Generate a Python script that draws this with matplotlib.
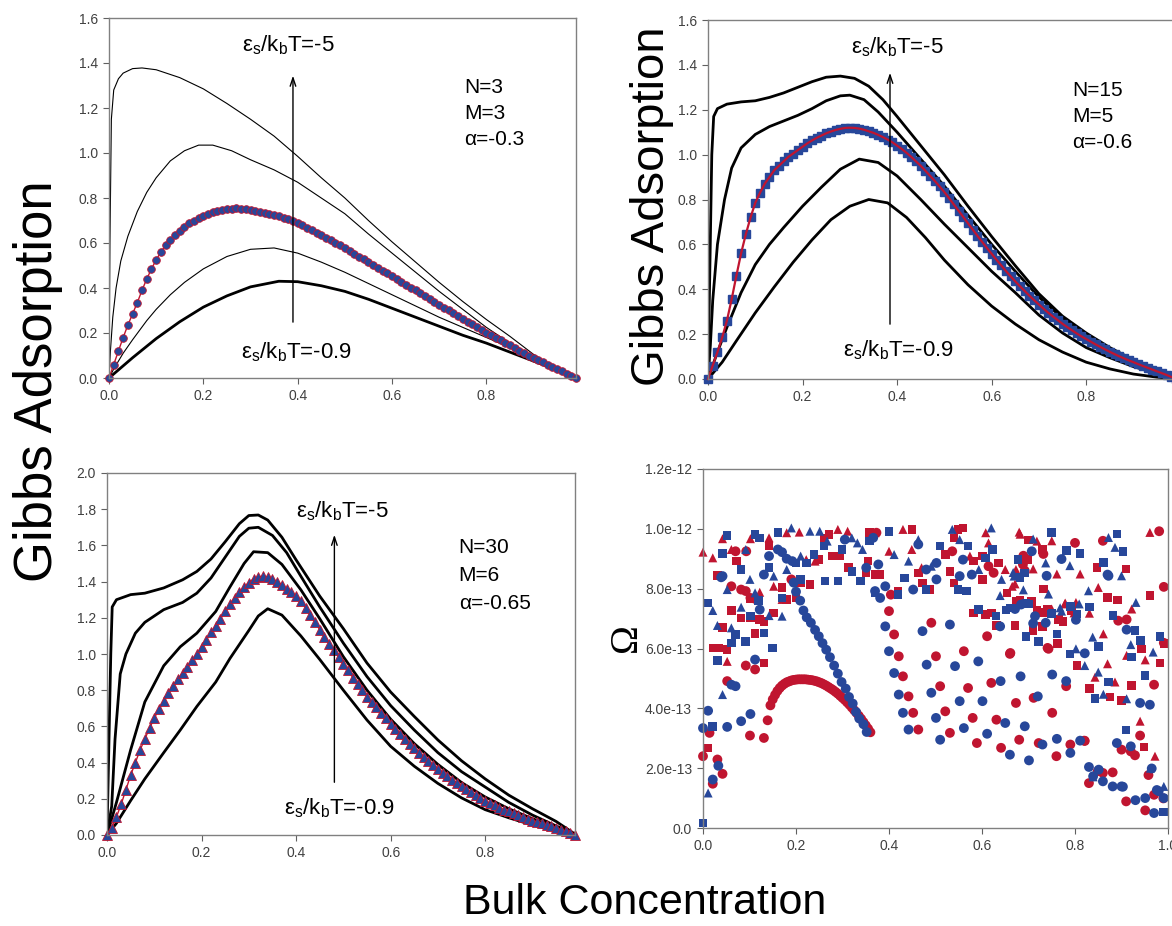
import numpy as np
import matplotlib
matplotlib.use('Agg')
import matplotlib.pyplot as plt

plt.rcParams['font.family'] = ['Liberation Sans', 'DejaVu Sans']

RED = '#c01530'
BLUE = '#27479a'

# ---------------- top left: N=3, M=3, alpha=-0.3 ----------------
tl_x1 = [0, 0.002, 0.005, 0.01, 0.02, 0.03, 0.05, 0.07, 0.1, 0.15, 0.2, 0.25, 0.3, 0.35, 0.4,
         0.45, 0.5, 0.55, 0.6, 0.65, 0.7, 0.75, 0.8, 0.85, 0.9, 0.95, 0.99]
tl_y1 = [0, 0.6, 1.15, 1.28, 1.33, 1.355, 1.375, 1.378, 1.37, 1.335, 1.285, 1.22, 1.15, 1.075, 0.985,
         0.89, 0.80, 0.70, 0.605, 0.515, 0.425, 0.34, 0.26, 0.185, 0.105, 0.04, 0]
tl_x2 = [0, 0.003, 0.008, 0.015, 0.025, 0.04, 0.06, 0.08, 0.1, 0.13, 0.16, 0.19, 0.22, 0.26, 0.3,
         0.35, 0.4, 0.45, 0.5, 0.55, 0.6, 0.65, 0.7, 0.75, 0.8, 0.85, 0.9, 0.95, 0.99]
tl_y2 = [0, 0.12, 0.27, 0.40, 0.52, 0.63, 0.74, 0.825, 0.89, 0.965, 1.01, 1.035, 1.035, 1.01, 0.97,
         0.925, 0.87, 0.80, 0.73, 0.64, 0.555, 0.47, 0.385, 0.305, 0.225, 0.155, 0.09, 0.035, 0]
tl_x4 = [0, 0.01, 0.03, 0.05, 0.08, 0.1, 0.13, 0.16, 0.2, 0.25, 0.3, 0.35, 0.4, 0.45, 0.5,
         0.55, 0.6, 0.65, 0.7, 0.75, 0.8, 0.85, 0.9, 0.95, 0.99]
tl_y4 = [0, 0.04, 0.11, 0.17, 0.255, 0.305, 0.37, 0.425, 0.485, 0.54, 0.572, 0.578, 0.555, 0.515, 0.47,
         0.42, 0.37, 0.32, 0.27, 0.225, 0.18, 0.135, 0.09, 0.045, 0]
tl_x5 = [0, 0.05, 0.1, 0.15, 0.2, 0.25, 0.3, 0.36, 0.4, 0.45, 0.5, 0.55, 0.6, 0.65, 0.7,
         0.75, 0.8, 0.85, 0.9, 0.95, 0.99]
tl_y5 = [0, 0.09, 0.175, 0.25, 0.315, 0.365, 0.405, 0.43, 0.428, 0.41, 0.385, 0.35, 0.31, 0.27, 0.23,
         0.19, 0.155, 0.115, 0.075, 0.035, 0]
tl_mark = [0.000, 0.060, 0.120, 0.180, 0.235, 0.285, 0.335, 0.390, 0.440, 0.485,
           0.525, 0.560, 0.590, 0.615, 0.635, 0.655, 0.672, 0.687, 0.700, 0.712,
           0.722, 0.731, 0.738, 0.744, 0.748, 0.751, 0.753, 0.754, 0.753, 0.751,
           0.748, 0.744, 0.740, 0.735, 0.730, 0.724, 0.718, 0.712, 0.705, 0.698,
           0.690, 0.679, 0.668, 0.657, 0.646, 0.635, 0.623, 0.612, 0.601, 0.589,
           0.578, 0.565, 0.553, 0.540, 0.528, 0.515, 0.502, 0.490, 0.477, 0.465,
           0.452, 0.440, 0.427, 0.414, 0.402, 0.389, 0.376, 0.364, 0.351, 0.339,
           0.326, 0.313, 0.301, 0.288, 0.276, 0.263, 0.250, 0.238, 0.225, 0.213,
           0.200, 0.189, 0.178, 0.167, 0.156, 0.145, 0.133, 0.122, 0.111, 0.100,
           0.089, 0.079, 0.069, 0.059, 0.049, 0.039, 0.030, 0.020, 0.010, 0.000]

# ---------------- top right: N=15, M=5, alpha=-0.6 ----------------
tr_x1 = [0, 0.004, 0.008, 0.012, 0.02, 0.04, 0.07, 0.1, 0.13, 0.16, 0.19, 0.22, 0.25, 0.28, 0.31,
         0.34, 0.37, 0.4, 0.45, 0.5, 0.55, 0.6, 0.65, 0.7, 0.75, 0.8, 0.85, 0.9, 0.95, 0.99]
tr_y1 = [0, 0.5, 1.0, 1.17, 1.205, 1.225, 1.235, 1.24, 1.255, 1.275, 1.30, 1.325, 1.345, 1.35, 1.34,
         1.305, 1.245, 1.17, 1.04, 0.91, 0.77, 0.635, 0.505, 0.38, 0.28, 0.205, 0.14, 0.085, 0.04, 0.005]
tr_x2 = [0, 0.005, 0.01, 0.02, 0.035, 0.05, 0.07, 0.1, 0.13, 0.16, 0.19, 0.22, 0.25, 0.28, 0.3,
         0.33, 0.36, 0.4, 0.45, 0.5, 0.55, 0.6, 0.65, 0.7, 0.75, 0.8, 0.85, 0.9, 0.95, 0.99]
tr_y2 = [0, 0.15, 0.35, 0.6, 0.8, 0.94, 1.03, 1.09, 1.125, 1.15, 1.175, 1.205, 1.24, 1.262, 1.265,
         1.245, 1.19, 1.1, 0.98, 0.86, 0.73, 0.6, 0.48, 0.365, 0.27, 0.19, 0.13, 0.08, 0.035, 0.003]
tr_x4 = [0, 0.02, 0.04, 0.07, 0.1, 0.13, 0.16, 0.2, 0.24, 0.28, 0.32, 0.36, 0.4, 0.45, 0.5,
         0.55, 0.6, 0.65, 0.7, 0.75, 0.8, 0.85, 0.9, 0.95, 0.99]
tr_y4 = [0, 0.12, 0.23, 0.385, 0.51, 0.6, 0.675, 0.77, 0.855, 0.935, 0.98, 0.965, 0.905, 0.8, 0.69,
         0.585, 0.48, 0.385, 0.285, 0.205, 0.14, 0.095, 0.055, 0.025, 0.003]
tr_x5 = [0, 0.03, 0.06, 0.1, 0.14, 0.18, 0.22, 0.26, 0.3, 0.34, 0.38, 0.42, 0.46, 0.5, 0.55,
         0.6, 0.65, 0.7, 0.75, 0.8, 0.85, 0.9, 0.95, 0.99]
tr_y5 = [0, 0.075, 0.17, 0.295, 0.41, 0.52, 0.62, 0.71, 0.77, 0.80, 0.785, 0.72, 0.63, 0.53, 0.42,
         0.325, 0.245, 0.175, 0.12, 0.075, 0.045, 0.022, 0.008, 0]
tr_mark = [0.000, 0.060, 0.120, 0.185, 0.260, 0.355, 0.460, 0.560, 0.645, 0.720,
           0.785, 0.830, 0.870, 0.900, 0.930, 0.950, 0.970, 0.990, 1.005, 1.020,
           1.035, 1.050, 1.063, 1.075, 1.085, 1.095, 1.103, 1.110, 1.115, 1.119,
           1.120, 1.119, 1.116, 1.111, 1.104, 1.097, 1.088, 1.078, 1.067, 1.055,
           1.040, 1.025, 1.008, 0.990, 0.970, 0.950, 0.928, 0.905, 0.882, 0.858,
           0.833, 0.806, 0.778, 0.750, 0.722, 0.694, 0.666, 0.638, 0.611, 0.584,
           0.558, 0.532, 0.507, 0.482, 0.458, 0.435, 0.413, 0.392, 0.371, 0.351,
           0.332, 0.313, 0.295, 0.278, 0.262, 0.246, 0.231, 0.217, 0.203, 0.190,
           0.178, 0.166, 0.154, 0.143, 0.132, 0.121, 0.111, 0.101, 0.092, 0.083,
           0.075, 0.066, 0.058, 0.050, 0.042, 0.034, 0.026, 0.018, 0.009, 0.000]

# ---------------- bottom left: N=30, M=6, alpha=-0.65 ----------------
bl_x1 = [0, 0.004, 0.008, 0.011, 0.02, 0.05, 0.08, 0.12, 0.16, 0.19, 0.22, 0.25, 0.28, 0.3, 0.32,
         0.34, 0.37, 0.4, 0.45, 0.5, 0.55, 0.6, 0.65, 0.7, 0.75, 0.8, 0.85, 0.9, 0.95, 0.99]
bl_y1 = [0, 0.5, 1.0, 1.26, 1.3, 1.328, 1.336, 1.365, 1.41, 1.456, 1.525, 1.62, 1.72, 1.765, 1.768,
         1.74, 1.645, 1.52, 1.32, 1.14, 0.95, 0.79, 0.655, 0.525, 0.41, 0.31, 0.22, 0.145, 0.075, 0.005]
bl_x2 = [0, 0.01, 0.017, 0.028, 0.04, 0.06, 0.08, 0.12, 0.16, 0.19, 0.22, 0.25, 0.28, 0.3, 0.32,
         0.35, 0.38, 0.41, 0.45, 0.5, 0.55, 0.6, 0.65, 0.7, 0.75, 0.8, 0.85, 0.9, 0.95, 0.99]
bl_y2 = [0, 0.16, 0.53, 0.89, 1.0, 1.115, 1.175, 1.245, 1.285, 1.336, 1.42, 1.535, 1.65, 1.695, 1.70,
         1.655, 1.56, 1.43, 1.26, 1.06, 0.875, 0.715, 0.58, 0.455, 0.35, 0.265, 0.18, 0.11, 0.05, 0.005]
bl_x3 = [0, 0.02, 0.05, 0.08, 0.12, 0.155, 0.19, 0.23, 0.26, 0.29, 0.31, 0.34, 0.37, 0.41, 0.45,
         0.5, 0.55, 0.6, 0.65, 0.7, 0.75, 0.8, 0.85, 0.9, 0.95, 0.99]
bl_y3 = [0, 0.18, 0.47, 0.735, 0.935, 1.04, 1.115, 1.235, 1.37, 1.5, 1.565, 1.56, 1.495, 1.355, 1.195,
         0.985, 0.8, 0.64, 0.505, 0.39, 0.29, 0.21, 0.145, 0.09, 0.04, 0.003]
bl_x5 = [0, 0.02, 0.05, 0.08, 0.12, 0.155, 0.19, 0.23, 0.26, 0.3, 0.32, 0.34, 0.37, 0.41, 0.45,
         0.5, 0.55, 0.6, 0.65, 0.7, 0.75, 0.8, 0.85, 0.9, 0.95, 0.99]
bl_y5 = [0, 0.065, 0.19, 0.31, 0.455, 0.58, 0.71, 0.845, 0.975, 1.13, 1.21, 1.25, 1.215, 1.1, 0.97,
         0.8, 0.635, 0.49, 0.38, 0.285, 0.205, 0.14, 0.095, 0.055, 0.022, 0]
bl_mark = [0.000, 0.040, 0.100, 0.170, 0.250, 0.330, 0.400, 0.470, 0.530, 0.590,
           0.645, 0.695, 0.740, 0.785, 0.825, 0.860, 0.895, 0.930, 0.965, 1.000,
           1.040, 1.080, 1.120, 1.155, 1.195, 1.235, 1.275, 1.310, 1.340, 1.370,
           1.395, 1.415, 1.425, 1.430, 1.425, 1.415, 1.400, 1.380, 1.360, 1.340,
           1.320, 1.295, 1.255, 1.215, 1.175, 1.135, 1.095, 1.055, 1.020, 0.985,
           0.945, 0.910, 0.870, 0.835, 0.800, 0.765, 0.735, 0.705, 0.675, 0.645,
           0.615, 0.585, 0.560, 0.530, 0.505, 0.480, 0.455, 0.430, 0.410, 0.385,
           0.365, 0.345, 0.325, 0.305, 0.290, 0.270, 0.255, 0.235, 0.220, 0.205,
           0.190, 0.175, 0.165, 0.150, 0.140, 0.130, 0.120, 0.110, 0.100, 0.090,
           0.080, 0.072, 0.064, 0.056, 0.048, 0.040, 0.030, 0.020, 0.010, 0.000]

# bulk concentration grid of the marker series
mark_x = np.round(np.arange(100) * 0.01, 2)

# ---------------- bottom right: Omega scatter (y in units of 1e-13) ----------------
rc_x = [0, .014, .021, .031, .042, .052, .061, .07, .082, .092, .092, .101, .093, .102, .112, .112, .131, .19,
        .139, .145, .15, .155, .16, .165, .17, .175, .18, .185, .19, .195, .2, .205, .21, .215, .22, .225,
        .23, .235, .24, .245, .25, .255, .26, .265, .27, .275, .28, .285, .29, .295, .3, .305, .31, .315,
        .32, .325, .33, .335, .34, .345, .35, .355, .36,
        .373, .404, .4, .411, .421, .43, .442, .452, .463, .491, .501, .51, .521, .531, .561, .57, .58, .589,
        .611, .62, .631, .641, .661, .673, .68, .711, .722, .741, .751, .76, .781, .79, .82, .83, .849, .86,
        .881, .9, .91, .92, .94, .951, .97, .97, .991, .991, .981, .911, .893, .86, .8, .689, .732, .692,
        .688, .614, .625, .536, .66, .743, .929, .821, .958, .99]
rc_y = [2.4, 3.18, 1.48, 2.29, 1.81, 4.91, 8.08, 9.25, 7.97, 7.92, 5.43, 3.09, 9.25, 7.69, 7.66, 5.3, 3.01, 8.31,
        3.6, 4.1, 4.3, 4.45, 4.58, 4.68, 4.76, 4.82, 4.87, 4.9, 4.93, 4.95, 4.96, 4.97, 4.97, 4.97, 4.97, 4.96,
        4.95, 4.94, 4.92, 4.9, 4.87, 4.84, 4.8, 4.76, 4.71, 4.66, 4.61, 4.55, 4.49, 4.42, 4.35, 4.28, 4.2, 4.12,
        4.03, 3.94, 3.85, 3.75, 3.65, 3.54, 3.43, 3.32, 3.2,
        9.87, 7.8, 7.25, 6.47, 5.74, 5.07, 4.4, 3.85, 3.29, 6.86, 5.74, 4.74, 3.9, 3.18, 5.91, 4.68, 3.68, 2.84,
        6.41, 4.85, 3.62, 2.68, 5.85, 4.18, 2.95, 4.35, 2.84, 6.02, 3.85, 2.4, 4.74, 2.79, 2.92, 1.5, 1.9, 1.84,
        1.86, 2.62, 0.89, 2.56, 3.09, 0.59, 1.11, 4.79, 6.19, 8.06, 9.92, 6.97, 6.93, 9.6, 9.53, 9.1, 9.16, 8.6,
        8.81, 8.75, 8.53, 9.25, 5.82, 5.99, 2.43, 2.91, 1.77, 0.99]

rs_x = [.011, .023, .033, .042, .052, .031, .061, .072, .082, .102, .112, .131, .122, .131, .142, .152, .17,
        .18, .2, .21, .23, .248, .26, .271, .279, .294, .313, .351, .355, .358, .37, .381, .419, .449, .464,
        .548, .487, .472, .521, .531, .54, .54, .559, .582, .601, .635, .654, .601, .582, .608, .62, .631,
        .673, .707, .73, .741, .764, .699, .73, .7, .91, .961, .87, .891, .992, .943, .983, .922, .9, .831,
        .875, .804, .762, .71, .774, .793, .732, .718, .682, .671, .732, .847, .101, .948]
rs_y = [2.68, 6.02, 6.02, 6.71, 5.96, 8.44, 7.27, 8.92, 7.02, 7.02, 6.5, 5.52, 6.97, 6.91, 9.42, 7.19, 8.03,
        7.64, 7.69, 8.19, 8.14, 8.97, 9.7, 9.81, 9.09, 9.09, 8.7, 8.53, 8.92, 9.87, 8.47, 8.47, 7.92, 9.98, 8.53,
        9.98, 7.97, 8.19, 9.14, 8.58, 8.19, 9.7, 10.03, 8.92, 8.31, 8.86, 7.86, 9.09, 7.19, 7.13, 7.19, 6.77,
        7.58, 7.58, 6.74, 7.3, 6.97, 8.97, 9.31, 9.62, 8.66, 7.77, 7.71, 7.62, 6.16, 5.99, 5.51, 4.77, 4.27, 4.66,
        4.38, 5.43, 6.16, 6.6, 6.91, 7.27, 7.21, 7.29, 7.6, 6.77, 7.99, 8.71, 7.66, 2.71]

rt_x = [0, .021, .042, .052, .061, .102, .122, .142, .152, .17, .18, .207, .222, .241, .29, .311, .37, .4,
        .43, .449, .47, .574, .614, .65, .665, .673, .718, .682, .75, .68, .608, .961, .811, .922, .911, .951,
        .886, .87, .843, .861, .802, .831, .778, .75, .671, .761, .71, .85, .779, .798, .972, .94]
rt_y = [9.22, 9.03, 9.67, 5.57, 9.31, 9.67, 7.88, 9.7, 8.08, 7.64, 9.87, 9.89, 8.97, 8.92, 9.98, 9.92, 9.87,
        9.25, 9.98, 9.31, 8.7, 9.09, 9.53, 8.64, 8.08, 8.64, 9.59, 9.82, 9.6, 9.89, 9.87, 9.88, 8.49, 7.32, 5.77,
        5.62, 4.88, 5.49, 5.04, 6.49, 7.54, 7.18, 7.49, 7.32, 8.16, 8.49, 8.66, 8.04, 7.52, 7.19, 2.4, 3.57]

bc_x = [0, .011, .021, .033, .052, .061, .07, .042, .082, .102, .122, .112, .131, .142, .161, .17, .18, .192,
        .039, .195, .2, .209, .216, .223, .232, .241, .249, .257, .265, .273, .282, .29, .298, .307, .314,
        .322, .329, .336, .345, .352,
        .305, .351, .366, .37, .377, .381, .392, .392, .4, .411, .421, .43, .442, .452, .463, .48, .472, .481,
        .491, .501, .51, .531, .542, .552, .561, .592, .601, .611, .64, .65, .66, .683, .692, .701, .72, .73,
        .751, .761, .781, .79, .811, .83, .839, .851, .86, .881, .89, .9, .93, .951, .97, .98, .991, .911,
        .94, .961, .92, .87, .502, .552, .578, .559, .502, .639, .684, .714, .737, .707, .771, .872, .739,
        .671, .71, .802, .821, .965, .976, .903]
bc_y = [3.34, 3.92, 1.62, 2.08, 3.38, 4.79, 4.74, 8.42, 3.57, 3.81, 7.3, 5.63, 8.47, 9.09, 9.31, 9.22, 9.0, 8.92,
        8.38, 8.2, 7.9, 7.6, 7.27, 7.04, 6.86, 6.62, 6.41, 6.18, 5.96, 5.71, 5.43, 5.16, 4.88, 4.66, 4.38,
        4.16, 3.88, 3.66, 3.47, 3.21,
        9.64, 8.7, 9.7, 7.92, 8.81, 7.69, 8.08, 6.74, 5.91, 5.18, 4.46, 3.85, 3.29, 7.97, 9.48, 8.64, 6.58, 5.46,
        4.52, 3.68, 2.95, 6.8, 5.41, 4.24, 3.34, 5.57, 4.24, 3.15, 4.91, 3.51, 2.45, 5.07, 3.4, 2.26, 4.4, 2.79,
        5.13, 2.98, 4.91, 2.51, 2.92, 2.04, 1.73, 1.95, 1.56, 1.39, 2.84, 1.39, 0.93, 1.0, 0.5, 1.23, 1.0, 6.63,
        4.18, 4.12, 2.73, 8.47, 8.86, 8.42, 8.47, 8.97, 8.31, 6.74, 7.47, 7.08, 6.86, 9.25, 8.99, 8.43, 8.43,
        7.32, 6.84, 6.96, 5.84, 1.99, 1.27, 1.38]

bs_x = [0, .011, .021, .031, .042, .052, .061, .07, .082, .092, .102, .112, .122, .131, .15, .142, .161, .17,
        .2, .21, .222, .239, .26, .262, .29, .299, .32, .339, .358, .37, .4, .419, .433, .48, .51, .548, .57,
        .608, .623, .567, .593, .63, .661, .695, .751, .79, .677, .692, .75, .89, .903, .782, .811, .861, .882,
        .929, .983, .941, .922, .951, .843, .872, .85, .789, .761, .695, .721, .804, .831, .75, .7, .652, .682,
        .91, .99, .119]
bs_y = [0.17, 7.52, 3.4, 5.6, 9.18, 9.78, 6.19, 6.47, 8.64, 6.24, 7.08, 9.81, 9.7, 6.52, 6.02, 8.7, 9.87, 7.69,
        8.86, 8.31, 8.86, 9.14, 9.42, 8.25, 8.25, 9.31, 8.58, 8.25, 9.59, 7.86, 9.92, 7.8, 8.36, 7.97, 9.42, 7.97,
        9.42, 9.03, 9.31, 7.92, 7.3, 7.08, 7.36, 7.52, 7.19, 7.41, 8.97, 8.53, 9.88, 9.82, 9.24, 9.27, 9.18, 8.88,
        7.1, 6.6, 6.4, 6.27, 5.71, 5.1, 4.32, 4.88, 6.07, 5.82, 6.49, 6.4, 6.24, 7.16, 7.38, 7.16, 7.49, 7.29,
        8.38, 3.27, 0.54, 7.6]

bt_x = [.011, .021, .031, .042, .052, .061, .082, .092, .101, .112, .142, .152, .17, .18, .19, .21, .23, .251,
        .267, .32, .332, .343, .411, .442, .463, .491, .552, .593, .62, .642, .669, .737, .71, .872, .886, .789,
        .9, .931, .92, .968, .911, .861, .85, .802, .821, .838, .809, .768, .639, .689, .743, .829, .667, .771,
        .839, .962, .991, .536]
bt_y = [1.17, 7.27, 6.77, 4.46, 7.97, 6.69, 7.38, 9.31, 8.31, 7.86, 7.1, 8.42, 7.08, 8.64, 10.03, 9.09, 9.92,
        9.92, 9.59, 9.7, 9.53, 9.31, 9.14, 8.92, 9.64, 8.75, 9.64, 8.64, 10.03, 8.31, 8.42, 8.86, 9.66, 9.71,
        9.38, 8.77, 8.43, 7.54, 6.13, 5.88, 4.32, 4.47, 5.21, 5.99, 5.43, 6.38, 7.49, 7.36, 7.77, 7.96, 7.82,
        7.93, 8.54, 7.25, 1.71, 2.0, 1.39, 9.98]


def style(ax, xmax, ymax, xticks, yticks, ylabels):
    ax.set_xlim(0, xmax)
    ax.set_ylim(0, ymax)
    ax.set_xticks(xticks)
    ax.set_xticklabels(['%.1f' % v for v in xticks])
    ax.set_yticks(yticks)
    ax.set_yticklabels(ylabels)
    for s in ax.spines.values():
        s.set_color('#808080')
        s.set_linewidth(1.0)
    ax.tick_params(direction='out', length=4, width=0.8, color='#606060',
                   labelsize=10, labelcolor='#404040', pad=4)


def eps_label(val):
    return 'ε$_\\mathregular{s}$/k$_\\mathregular{b}$T=' + val


def annotate_panel(ax, ax_x, y0, y1, top_xy, bot_xy, info_xy, info, dy):
    ax.annotate('', xy=(ax_x, y1), xytext=(ax_x, y0),
                arrowprops=dict(arrowstyle='->,head_length=0.6,head_width=0.2', lw=1.0, color='black'))
    ax.text(top_xy[0], top_xy[1], eps_label('-5'), fontsize=16, ha='center', va='center')
    ax.text(bot_xy[0], bot_xy[1], eps_label('-0.9'), fontsize=16, ha='center', va='center')
    for i, line in enumerate(info):
        ax.text(info_xy[0], info_xy[1] - i * dy, line, fontsize=15, ha='left', va='center')


W, H = 1172, 926
fig = plt.figure(figsize=(W / 100, H / 100), dpi=100)


def pix_axes(left, top, right, bottom):
    return fig.add_axes([left / W, (H - bottom) / H, (right - left) / W, (bottom - top) / H])


gx = [0, 0.2, 0.4, 0.6, 0.8]

# top left
ax1 = pix_axes(109, 18, 576, 378)
ax1.plot(tl_x1, tl_y1, color='black', lw=0.8)
ax1.plot(tl_x2, tl_y2, color='black', lw=0.8)
ax1.plot(tl_x4, tl_y4, color='black', lw=0.8)
ax1.plot(tl_x5, tl_y5, color='black', lw=2.0)
ax1.plot(mark_x, tl_mark, color=RED, lw=1.0, marker='o', ms=5.5, mfc=BLUE, mec=RED, mew=0.6, clip_on=False)
style(ax1, 0.99, 1.6, gx, np.arange(0, 1.61, 0.2), ['%.1f' % v for v in np.arange(0, 1.61, 0.2)])
annotate_panel(ax1, 0.39, 0.236, 1.356, (0.381, 1.48), (0.398, 0.115), (0.753, 1.293),
               ['N=3', 'M=3', 'α=-0.3'], 0.116)

# top right
ax2 = pix_axes(708, 20, 1176, 379)
for xs, ys in [(tr_x1, tr_y1), (tr_x2, tr_y2), (tr_x4, tr_y4), (tr_x5, tr_y5)]:
    ax2.plot(xs, ys, color='black', lw=2.0)
ax2.plot(mark_x, tr_mark, ls='none', marker='s', ms=5.5, mfc=BLUE, mec=BLUE, clip_on=False)
ax2.plot(mark_x, tr_mark, color=RED, lw=1.6, clip_on=False)
style(ax2, 0.99, 1.6, gx, np.arange(0, 1.61, 0.2), ['%.1f' % v for v in np.arange(0, 1.61, 0.2)])
annotate_panel(ax2, 0.385, 0.232, 1.377, (0.40, 1.48), (0.404, 0.13), (0.77, 1.288),
               ['N=15', 'M=5', 'α=-0.6'], 0.116)

# bottom left
ax3 = pix_axes(107, 473, 575, 835)
for xs, ys in [(bl_x1, bl_y1), (bl_x2, bl_y2), (bl_x3, bl_y3), (bl_x5, bl_y5)]:
    ax3.plot(xs, ys, color='black', lw=2.0)
ax3.plot(mark_x, bl_mark, color=RED, lw=1.0, marker='^', ms=6.5, mfc=BLUE, mec=RED, mew=0.6, clip_on=False)
style(ax3, 0.99, 2.0, gx, np.arange(0, 2.01, 0.2), ['%.1f' % v for v in np.arange(0, 2.01, 0.2)])
annotate_panel(ax3, 0.481, 0.276, 1.674, (0.497, 1.79), (0.492, 0.15), (0.744, 1.591),
               ['N=30', 'M=6', 'α=-0.65'], 0.157)

# bottom right
ax4 = pix_axes(703, 469, 1168, 828)
sc = 1e-13
ax4.scatter(rc_x, np.array(rc_y) * sc, marker='o', s=50, c=RED, edgecolors='none', clip_on=False)
ax4.scatter(rs_x, np.array(rs_y) * sc, marker='s', s=38, c=RED, edgecolors='none', clip_on=False)
ax4.scatter(rt_x, np.array(rt_y) * sc, marker='^', s=42, c=RED, edgecolors='none', clip_on=False)
ax4.scatter(bc_x, np.array(bc_y) * sc, marker='o', s=50, c=BLUE, edgecolors='none', clip_on=False)
ax4.scatter(bs_x, np.array(bs_y) * sc, marker='s', s=38, c=BLUE, edgecolors='none', clip_on=False)
ax4.scatter(bt_x, np.array(bt_y) * sc, marker='^', s=42, c=BLUE, edgecolors='none', clip_on=False)
om_ticks = [0, 2e-13, 4e-13, 6e-13, 8e-13, 1e-12, 1.2e-12]
om_labels = ['0.0', '2.0e-13', '4.0e-13', '6.0e-13', '8.0e-13', '1.0e-12', '1.2e-12']
style(ax4, 1.0, 1.2e-12, [0, 0.2, 0.4, 0.6, 0.8, 1.0], om_ticks, om_labels)

# shared labels
fig.text(38 / W, 1 - 381 / H, 'Gibbs Adsorption', rotation=90, fontsize=38, ha='center', va='center')
fig.text(652 / W, 1 - 206 / H, 'Gibbs Adsorption', rotation=90, fontsize=34, ha='center', va='center')
fig.text(645 / W, 1 - 903 / H, 'Bulk Concentration', fontsize=31, ha='center', va='center')
fig.text(626 / W, 1 - 638 / H, 'Ω', rotation=90, fontsize=28, ha='center', va='center',
         family=['Liberation Serif', 'DejaVu Serif'])

fig.savefig('out.png', dpi=100)
